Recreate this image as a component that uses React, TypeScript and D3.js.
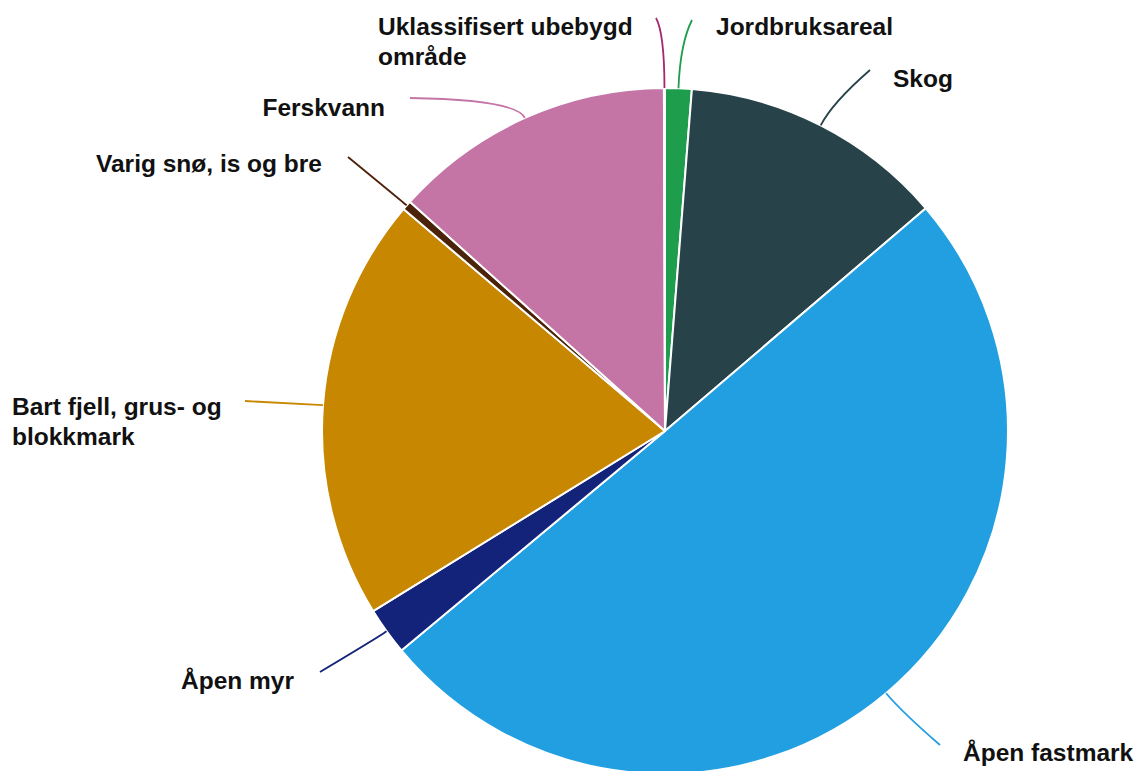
import React, { useEffect, useRef } from 'react';
import * as d3 from 'd3';

// Arealfordeling (prosent av totalt areal), lest av figuren
const categories = [
  'Jordbruksareal',
  'Skog',
  'Åpen fastmark',
  'Åpen myr',
  'Bart fjell, grus- og blokkmark',
  'Varig snø, is og bre',
  'Ferskvann',
  'Uklassifisert ubebygd område',
];
const values = [1.25, 12.5, 50.2, 2.25, 20.0, 0.45, 13.3, 0.05];
const colors = ['#1e9d4c', '#284249', '#219fe0', '#14237a', '#c88700', '#4b230a', '#c475a6', '#a4286d'];

// label text lines (wrapped as in the original)
const labelLines = [
  ['Jordbruksareal'],
  ['Skog'],
  ['Åpen fastmark'],
  ['Åpen myr'],
  ['Bart fjell, grus- og', 'blokkmark'],
  ['Varig snø, is og bre'],
  ['Ferskvann'],
  ['Uklassifisert ubebygd', 'område'],
];

// layout for leader lines / labels: [lineEndX, lineEndY, labelX, labelY(first baseline), anchor, bend]
const labelLayout: [number, number, number, number, string, number][] = [
  [692, 20, 716, 35, 'start', 45],
  [870, 70, 893, 87, 'start', 25],
  [940, 745, 963, 761, 'start', 25],
  [320, 672, 294, 689, 'end', 10],
  [245, 401, 12, 415, 'start', 5],
  [348, 157, 322, 172, 'end', 5],
  [410, 98, 385, 116, 'end', 20],
  [656, 18, 378, 35, 'start', 55],
];

const W = 1139;
const H = 771;

export default function App() {
  const svgRef = useRef<SVGSVGElement>(null);

  useEffect(() => {
    if (!svgRef.current) return;
    const svg = d3.select(svgRef.current);
    svg.selectAll('*').remove();

    const cx = 665;
    const cy = 431;
    const r = 343;

    const data = categories.map((c, i) => ({ name: c, value: values[i], color: colors[i], i }));
    const pie = d3.pie<any>().sort(null).value(d => d.value);
    const arcs = pie(data);
    const arc = d3.arc<any>().innerRadius(0).outerRadius(r);

    const g = svg.append('g').attr('transform', `translate(${cx},${cy})`);

    g.selectAll('path.slice')
      .data(arcs)
      .join('path')
      .attr('class', 'slice')
      .attr('d', arc)
      .attr('fill', d => d.data.color)
      .attr('stroke', '#fff')
      .attr('stroke-width', 2)
      .attr('stroke-linejoin', 'round');

    // leader lines + labels
    arcs.forEach((a, i) => {
      const mid = (a.startAngle + a.endAngle) / 2;
      const [ex, ey, lx, ly, anchor, bend] = labelLayout[i];
      const sx = cx + r * Math.sin(mid);
      const sy = cy - r * Math.cos(mid);
      const qx = cx + (r + bend) * Math.sin(mid);
      const qy = cy - (r + bend) * Math.cos(mid);
      const p = d3.path();
      p.moveTo(sx, sy);
      p.quadraticCurveTo(qx, qy, ex, ey);
      svg.append('path')
        .attr('d', p.toString())
        .attr('fill', 'none')
        .attr('stroke', a.data.color)
        .attr('stroke-width', 1.8);

      const t = svg.append('text')
        .attr('x', lx)
        .attr('y', ly)
        .attr('text-anchor', anchor)
        .attr('font-family', '"Liberation Sans", Arial, sans-serif')
        .attr('font-weight', 'bold')
        .attr('font-size', 24.5)
        .attr('fill', '#111');
      labelLines[i].forEach((line, k) => {
        t.append('tspan').attr('x', lx).attr('dy', k === 0 ? 0 : 29.5).text(line);
      });
    });
  }, []);

  return (
    <svg
      ref={svgRef}
      width={W}
      height={H}
      style={{ position: 'absolute', left: 0, top: 0, background: '#fff', display: 'block' }}
    />
  );
}
